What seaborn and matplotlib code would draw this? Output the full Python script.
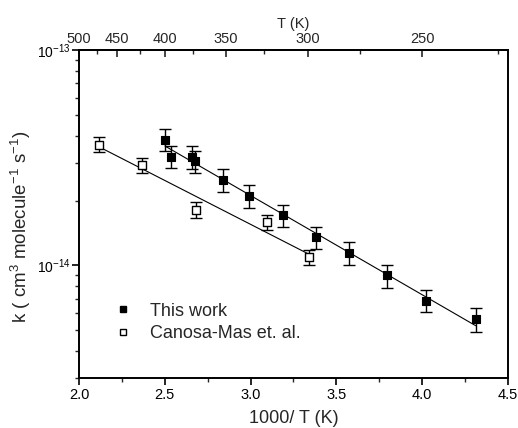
import numpy as np
import pandas as pd
import matplotlib
matplotlib.use("Agg")
import matplotlib.pyplot as plt
from matplotlib.lines import Line2D
from matplotlib.ticker import FixedLocator, FuncFormatter, LogLocator, NullFormatter, MultipleLocator
import seaborn as sns

# Rate constants vs inverse temperature
this_x = [2.501, 2.534, 2.657, 2.674, 2.841, 2.991, 3.187, 3.379, 3.575, 3.797, 4.020, 4.312]
this_k = [3.84e-14, 3.20e-14, 3.19e-14, 3.04e-14, 2.49e-14, 2.10e-14, 1.71e-14, 1.35e-14,
          1.14e-14, 8.98e-15, 6.86e-15, 5.63e-15]
this_err = [0.46e-14, 0.38e-14, 0.38e-14, 0.36e-14, 0.30e-14, 0.25e-14, 0.20e-14, 0.16e-14,
            0.14e-14, 0.11e-14, 0.08e-14, 0.07e-14]

canosa_x = [2.117, 2.365, 2.682, 3.097, 3.339]
canosa_k = [3.64e-14, 2.92e-14, 1.81e-14, 1.59e-14, 1.09e-14]
canosa_err = [0.29e-14, 0.23e-14, 0.15e-14, 0.13e-14, 0.09e-14]

series_labels = ["This work", "Canosa-Mas et. al."]
x_ticks = [2.0, 2.5, 3.0, 3.5, 4.0, 4.5]
y_ticks = [1e-14, 1e-13]
T_major = [500, 450, 400, 350, 300, 250]
T_minor = [475, 425, 375, 325, 275, 225]

sns.set_theme(style="ticks")
plt.rcParams["font.family"] = ["Liberation Sans", "DejaVu Sans"]
plt.rcParams["mathtext.default"] = "regular"

fig = plt.figure(figsize=(5.18, 4.28), dpi=100)
ax = fig.add_axes([0.1525, 0.1168, 0.8282, 0.7664])

def arrhenius_fit(x, k):
    x = np.asarray(x)
    slope, icpt = np.polyfit(x, np.log10(k), 1)
    xs = np.linspace(x.min(), x.max(), 50)
    return pd.DataFrame({"x": xs, "k": 10 ** (icpt + slope * xs)})

for xs, ks in [(this_x, this_k), (canosa_x, canosa_k)]:
    fit = arrhenius_fit(xs, ks)
    sns.lineplot(data=fit, x="x", y="k", ax=ax, color="black", lw=0.8, zorder=2)

ax.errorbar(this_x, this_k, yerr=this_err, fmt="none", ecolor="black",
            elinewidth=1.0, capsize=4.5, capthick=1.0, zorder=3)
ax.errorbar(canosa_x, canosa_k, yerr=canosa_err, fmt="none", ecolor="black",
            elinewidth=1.0, capsize=4.5, capthick=1.0, zorder=3)

df_this = pd.DataFrame({"x": this_x, "k": this_k})
df_can = pd.DataFrame({"x": canosa_x, "k": canosa_k})
sns.scatterplot(data=df_this, x="x", y="k", ax=ax, marker="s", s=28,
                color="black", edgecolor="black", linewidth=0.8, zorder=4)
sns.scatterplot(data=df_can, x="x", y="k", ax=ax, marker="s", s=26,
                facecolor="white", edgecolor="black", linewidth=1.0, zorder=4)

ax.set_yscale("log")
ax.set_xlim(2.0, 4.5)
ax.set_ylim(3e-15, 1e-13)

ax.xaxis.set_major_locator(FixedLocator(x_ticks))
ax.xaxis.set_minor_locator(MultipleLocator(0.25))
ax.xaxis.set_major_formatter(FuncFormatter(lambda v, p: f"{v:.1f}"))

ax.yaxis.set_major_locator(FixedLocator(y_ticks))
ax.yaxis.set_minor_locator(LogLocator(base=10, subs=np.arange(2, 10), numticks=20))
ax.yaxis.set_minor_formatter(NullFormatter())
ax.yaxis.set_major_formatter(FuncFormatter(lambda v, p: f"10$^{{{int(round(np.log10(v)))}}}$"))

ax.tick_params(axis="both", which="major", direction="out", length=5, width=1.2,
               labelsize=10.5, colors="black", pad=2)
ax.tick_params(axis="both", which="minor", direction="out", length=3, width=1.0)
ax.tick_params(axis="y", which="major", labelsize=10, pad=1)

for s in ax.spines.values():
    s.set_visible(True)
    s.set_linewidth(1.4)
    s.set_color("black")

ax.set_xlabel("1000/ T (K)", fontsize=13, labelpad=6)
ax.set_ylabel("k ( cm$^{3}$ molecule$^{-1}$ s$^{-1}$)", fontsize=13.5, labelpad=2)
ax.yaxis.set_label_coords(-0.107, 0.46)

top = ax.secondary_xaxis("top", functions=(lambda x: 1000.0 / x, lambda T: 1000.0 / T))
top.xaxis.set_major_locator(FixedLocator(T_major))
top.xaxis.set_minor_locator(FixedLocator(T_minor))
top.xaxis.set_major_formatter(FuncFormatter(lambda v, p: f"{v:.0f}"))
top.tick_params(axis="x", which="major", direction="in", length=5, width=1.2,
                labelsize=10.5, pad=3)
top.tick_params(axis="x", which="minor", direction="in", length=3, width=1.0)
top.set_xlabel("T (K)", fontsize=10.5, labelpad=3)
top.spines["top"].set_linewidth(1.4)

handles = [
    Line2D([], [], marker="s", linestyle="none", markersize=5,
           markerfacecolor="black", markeredgecolor="black"),
    Line2D([], [], marker="s", linestyle="none", markersize=5,
           markerfacecolor="white", markeredgecolor="black"),
]
ax.legend(handles, series_labels, loc="lower left", bbox_to_anchor=(0.04, 0.06),
          frameon=False, fontsize=13, handletextpad=0.9, labelspacing=0.3,
          handlelength=1.2)

fig.savefig("out.png", dpi=100)
